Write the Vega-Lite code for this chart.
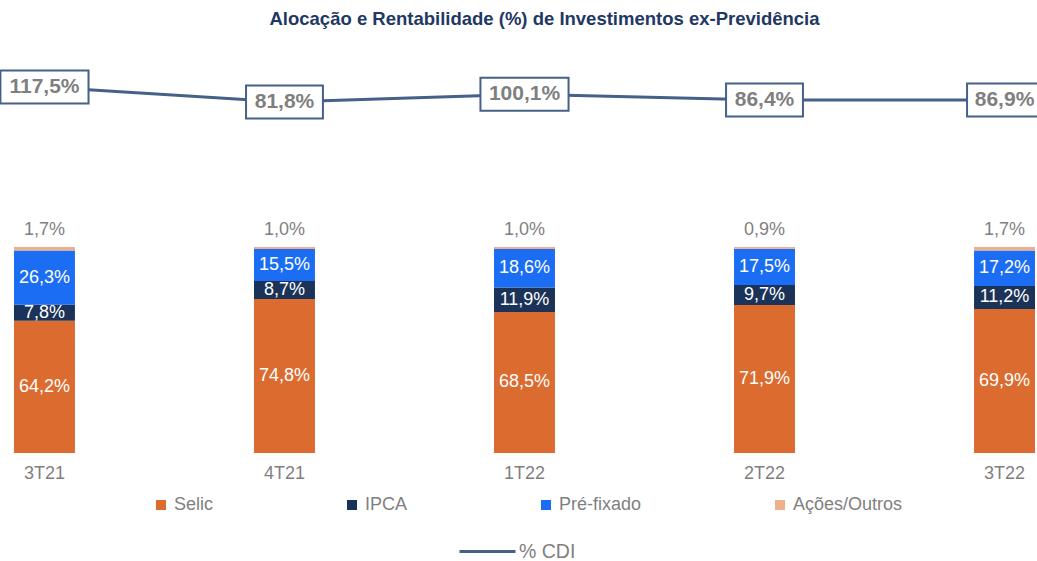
{
  "$schema": "https://vega.github.io/schema/vega-lite/v6.json",
  "width": 1037,
  "height": 413,
  "autosize": {"type": "none"},
  "padding": {"left": 0, "top": 40, "right": 0, "bottom": 108},
  "background": "white",
  "title": {
    "text": "Alocação e Rentabilidade (%) de Investimentos ex-Previdência",
    "font": "Liberation Sans",
    "fontSize": 18.5,
    "fontWeight": "bold",
    "color": "#1F3864",
    "anchor": "middle",
    "frame": "group",
    "dx": 26,
    "offset": 12
  },
  "config": {
    "view": {"stroke": null},
    "font": "Liberation Sans",
    "locale": {"number": {"decimal": ",", "thousands": ".", "grouping": [3], "currency": ["R$", ""]}}
  },
  "datasets": {
    "alloc": [
      {"periodo": "3T21", "tipo": "Selic", "ord": 1, "pct": 0.642},
      {"periodo": "3T21", "tipo": "IPCA", "ord": 2, "pct": 0.078},
      {"periodo": "3T21", "tipo": "Pré-fixado", "ord": 3, "pct": 0.263},
      {"periodo": "3T21", "tipo": "Ações/Outros", "ord": 4, "pct": 0.017},
      {"periodo": "4T21", "tipo": "Selic", "ord": 1, "pct": 0.748},
      {"periodo": "4T21", "tipo": "IPCA", "ord": 2, "pct": 0.087},
      {"periodo": "4T21", "tipo": "Pré-fixado", "ord": 3, "pct": 0.155},
      {"periodo": "4T21", "tipo": "Ações/Outros", "ord": 4, "pct": 0.010},
      {"periodo": "1T22", "tipo": "Selic", "ord": 1, "pct": 0.685},
      {"periodo": "1T22", "tipo": "IPCA", "ord": 2, "pct": 0.119},
      {"periodo": "1T22", "tipo": "Pré-fixado", "ord": 3, "pct": 0.186},
      {"periodo": "1T22", "tipo": "Ações/Outros", "ord": 4, "pct": 0.010},
      {"periodo": "2T22", "tipo": "Selic", "ord": 1, "pct": 0.719},
      {"periodo": "2T22", "tipo": "IPCA", "ord": 2, "pct": 0.097},
      {"periodo": "2T22", "tipo": "Pré-fixado", "ord": 3, "pct": 0.175},
      {"periodo": "2T22", "tipo": "Ações/Outros", "ord": 4, "pct": 0.009},
      {"periodo": "3T22", "tipo": "Selic", "ord": 1, "pct": 0.699},
      {"periodo": "3T22", "tipo": "IPCA", "ord": 2, "pct": 0.112},
      {"periodo": "3T22", "tipo": "Pré-fixado", "ord": 3, "pct": 0.172},
      {"periodo": "3T22", "tipo": "Ações/Outros", "ord": 4, "pct": 0.017}
    ],
    "cdi": [
      {"periodo": "3T21", "cdi": 1.175},
      {"periodo": "4T21", "cdi": 0.818},
      {"periodo": "1T22", "cdi": 1.001},
      {"periodo": "2T22", "cdi": 0.864},
      {"periodo": "3T22", "cdi": 0.869}
    ]
  },
  "encoding": {
    "x": {
      "field": "periodo",
      "type": "ordinal",
      "sort": ["3T21", "4T21", "1T22", "2T22", "3T22"],
      "scale": {"type": "band", "paddingInner": 0.746, "paddingOuter": 0.0333, "align": 0.875},
      "axis": {
        "title": null,
        "domain": false,
        "ticks": false,
        "labelAngle": 0,
        "labelFont": "Liberation Sans",
        "labelFontSize": 18,
        "labelColor": "#7F7F7F",
        "labelPadding": 11
      }
    }
  },
  "layer": [
    {
      "data": {"name": "alloc"},
      "transform": [
        {"stack": "pct", "groupby": ["periodo"], "sort": [{"field": "ord", "order": "ascending"}], "as": ["y0", "y1"]},
        {"calculate": "(datum.y0 + datum.y1) / 2", "as": "ymid"}
      ],
      "layer": [
        {
          "mark": {"type": "bar"},
          "encoding": {
            "y": {"field": "y0", "type": "quantitative", "scale": {"domain": [0, 2.005], "nice": false, "zero": true}, "axis": null},
            "y2": {"field": "y1"},
            "color": {
              "field": "tipo",
              "type": "nominal",
              "scale": {
                "domain": ["Selic", "IPCA", "Pré-fixado", "Ações/Outros"],
                "range": ["#DC6B2F", "#1C3359", "#1B6EF3", "#EEAF8C"]
              },
              "legend": {
                "orient": "none",
                "legendX": 152,
                "legendY": 456,
                "direction": "horizontal",
                "columns": 4,
                "columnPadding": 129,
                "symbolType": "square",
                "symbolSize": 100,
                "symbolStrokeWidth": 0,
                "labelFont": "Liberation Sans",
                "labelFontSize": 18,
                "labelColor": "#7F7F7F",
                "labelOffset": 4,
                "title": null
              }
            }
          }
        },
        {
          "transform": [{"filter": "datum.tipo != 'Ações/Outros'"}],
          "mark": {"type": "text", "color": "white", "fontSize": 18, "baseline": "middle", "font": "Liberation Sans"},
          "encoding": {
            "y": {"field": "ymid", "type": "quantitative"},
            "text": {"field": "pct", "type": "quantitative", "format": ".1%"}
          }
        },
        {
          "transform": [{"filter": "datum.tipo == 'Ações/Outros'"}],
          "mark": {"type": "text", "color": "#7F7F7F", "fontSize": 18, "baseline": "middle", "dy": -17, "font": "Liberation Sans"},
          "encoding": {
            "y": {"field": "y1", "type": "quantitative"},
            "text": {"field": "pct", "type": "quantitative", "format": ".1%"}
          }
        }
      ]
    },
    {
      "data": {"name": "cdi"},
      "encoding": {
        "y": {"field": "cdi", "type": "quantitative", "scale": {"domain": [-7.538, 2.2951], "nice": false, "zero": false}, "axis": null}
      },
      "layer": [
        {
          "mark": {"type": "line", "strokeWidth": 3},
          "encoding": {
            "stroke": {
              "datum": "% CDI",
              "type": "nominal",
              "scale": {"range": ["#456089"]},
              "legend": {
                "orient": "none",
                "legendX": 458,
                "legendY": 482,
                "symbolType": "stroke",
                "symbolSize": 3136,
                "symbolStrokeWidth": 3,
                "labelFont": "Liberation Sans",
                "labelFontSize": 19.5,
                "labelColor": "#7F7F7F",
                "labelOffset": 2,
                "title": null
              }
            }
          }
        },
        {
          "mark": {"type": "point", "filled": true, "fill": "white", "stroke": "#456089", "strokeWidth": 2, "size": 1089, "opacity": 1},
          "encoding": {
            "shape": {
              "field": "periodo",
              "type": "nominal",
              "scale": {
                "domain": ["3T21", "4T21", "1T22", "2T22", "3T22"],
                "range": ["M-2.67,-1H2.67V1H-2.67Z", "M-2.33,-1H2.33V1H-2.33Z", "M-2.67,-1H2.67V1H-2.67Z", "M-2.33,-1H2.33V1H-2.33Z", "M-2.27,-1H2.27V1H-2.27Z"]
              },
              "legend": null
            }
          }
        },
        {
          "mark": {"type": "text", "fontSize": 21, "fontWeight": "bold", "color": "#7F7F7F", "baseline": "middle", "font": "Liberation Sans"},
          "encoding": {
            "text": {"field": "cdi", "type": "quantitative", "format": ".1%"}
          }
        }
      ]
    }
  ],
  "resolve": {"scale": {"y": "independent"}}
}
